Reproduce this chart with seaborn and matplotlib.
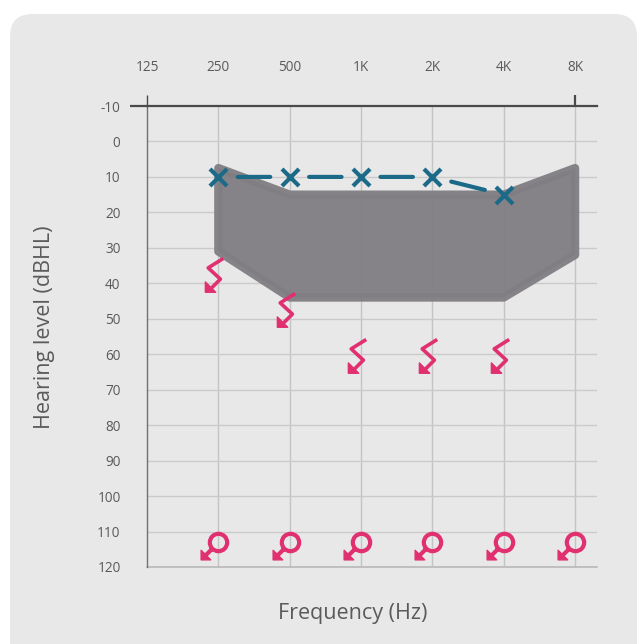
import numpy as np
import pandas as pd
import seaborn as sns
import matplotlib.pyplot as plt
from matplotlib.path import Path
from matplotlib.patches import FancyBboxPatch

# Data
freqs = [125, 250, 500, 1000, 2000, 4000, 8000]
freq_labels = ['125', '250', '500', '1K', '2K', '4K', '8K']
levels = list(range(-10, 121, 10))

# air conduction (X)
x_freq = [250, 500, 1000, 2000, 4000]
x_level = [10, 10, 10, 10, 15]

# zigzag no-response symbols
z_freq = [250, 500, 1000, 2000, 4000]
z_level = [37, 47, 60, 60, 60]

# circle no-response symbols
o_freq = [250, 500, 1000, 2000, 4000, 8000]
o_level = [113, 113, 113, 113, 113, 113]

# shaded area outline (freq, dB)
area_freq = [250, 500, 4000, 8000, 8000, 4000, 500, 250]
area_level = [7.5, 15, 15, 7.5, 32, 44, 44, 31]

blue = '#1b6a88'
pink = '#e0306f'
grey_txt = '#5a5a5a'

sns.set_theme(style='white')
plt.rcParams['font.family'] = ['Open Sans', 'DejaVu Sans']

fig = plt.figure(figsize=(6.41, 6.44), dpi=100)
fig.patch.set_facecolor('white')
bg = FancyBboxPatch((10 / 641, -0.05), 627 / 641, 1.05 - 14 / 644,
                    boxstyle='round,pad=0,rounding_size=0.035',
                    transform=fig.transFigure, facecolor='#e8e8e8',
                    edgecolor='none', zorder=-10)
fig.patches.append(bg)

ax = fig.add_axes([147 / 641, 1 - 567 / 644, 450 / 641, 461 / 644])
ax.set_facecolor('none')
ax.set_xscale('log', base=2)
ax.set_xlim(125, 9900)
ax.set_ylim(120, -10)

# grid
for f in freqs[1:]:
    ax.axvline(f, color='#c4c4c4', lw=1, zorder=1)
for lv in levels[1:]:
    ax.axhline(lv, color='#cacaca', lw=1, zorder=1)

# shaded region
ax.fill(area_freq, area_level, facecolor='#807e82', edgecolor='#807e82',
        lw=6, joinstyle='round', alpha=0.95, zorder=2)

# blue X markers with gapped connecting segments
for i in range(len(x_freq) - 1):
    ax.annotate('', xy=(x_freq[i + 1], x_level[i + 1]), xytext=(x_freq[i], x_level[i]),
                arrowprops=dict(arrowstyle='-', color=blue, lw=3,
                                shrinkA=14, shrinkB=14), zorder=4)
df_x = pd.DataFrame({'freq': x_freq, 'level': x_level})
sns.scatterplot(data=df_x, x='freq', y='level', marker='x', s=150,
                color=blue, linewidth=3, ax=ax, zorder=5)

# custom markers (all scaled to max |vertex| = 1)
zig = Path([(0.25, 0.8), (-0.55, 0.3), (0.1, -0.3), (-0.55, -0.95),
            (1.0, 1.0)],
           [Path.MOVETO, Path.LINETO, Path.LINETO, Path.LINETO, Path.MOVETO])
zig_head = Path([(-0.7, -1.0), (-0.7, -0.45), (-0.15, -1.0), (-0.7, -1.0),
                 (1.0, 1.0)],
                [Path.MOVETO, Path.LINETO, Path.LINETO, Path.CLOSEPOLY, Path.MOVETO])

circ = Path.circle((0.0, 0.0), 0.5)
shaft = Path([(-0.36, -0.36), (-0.8, -0.8), (1.0, 1.0)],
             [Path.MOVETO, Path.LINETO, Path.MOVETO])
circ_arrow = Path.make_compound_path(circ, shaft)
circ_head = Path([(-1.0, -1.0), (-1.0, -0.45), (-0.45, -1.0), (-1.0, -1.0),
                  (1.0, 1.0)],
                 [Path.MOVETO, Path.LINETO, Path.LINETO, Path.CLOSEPOLY, Path.MOVETO])

ax.plot(z_freq, z_level, ls='none', marker=zig, ms=27, mfc='none',
        mec=pink, mew=2.6, zorder=5)
ax.plot(z_freq, z_level, ls='none', marker=zig_head, ms=27, mfc=pink,
        mec=pink, mew=1, zorder=5)
ax.plot(o_freq, o_level, ls='none', marker=circ_arrow, ms=25, mfc='none',
        mec=pink, mew=3, zorder=5)
ax.plot(o_freq, o_level, ls='none', marker=circ_head, ms=25, mfc=pink,
        mec=pink, mew=1, zorder=5)

# axes styling
for s in ['right', 'bottom']:
    ax.spines[s].set_visible(False)
ax.spines['top'].set_color('#4a4a4a')
ax.spines['top'].set_linewidth(1.6)
ax.spines['left'].set_color('#707070')
ax.spines['left'].set_linewidth(1)
ax.axhline(120, color='#b8b8b8', lw=1.2, zorder=1, clip_on=False)

ax.xaxis.tick_top()
ax.set_xticks(freqs)
ax.set_xticklabels(freq_labels)
ax.xaxis.set_minor_locator(plt.NullLocator())
ax.tick_params(axis='x', which='major', top=True, bottom=False, length=8,
               width=1.6, color='#4a4a4a', pad=14, labelsize=9.8, labelcolor=grey_txt)
for t in ax.xaxis.get_major_ticks()[1:-1]:
    t.tick2line.set_visible(False)
ax.get_xaxis().get_major_ticks()[0].tick2line.set_color('#707070')
ax.get_xaxis().get_major_ticks()[0].tick2line.set_markeredgewidth(1)

ax.set_yticks(levels)
ax.set_yticklabels([str(v) for v in levels])
ax.tick_params(axis='y', left=True, length=12, width=1.6, color='#4a4a4a',
               pad=7, labelsize=9.8, labelcolor=grey_txt)
for t in ax.yaxis.get_major_ticks()[1:]:
    t.tick1line.set_visible(False)

ax.set_xlabel('Frequency (Hz)', fontsize=15.5, color=grey_txt)
ax.set_ylabel('Hearing level (dBHL)', fontsize=15.5, color=grey_txt)
ax.xaxis.set_label_position('bottom')
ax.xaxis.set_label_coords(0.456, -0.078)
ax.yaxis.set_label_coords(-0.205, 0.52)

fig.savefig('out.png', dpi=100)
